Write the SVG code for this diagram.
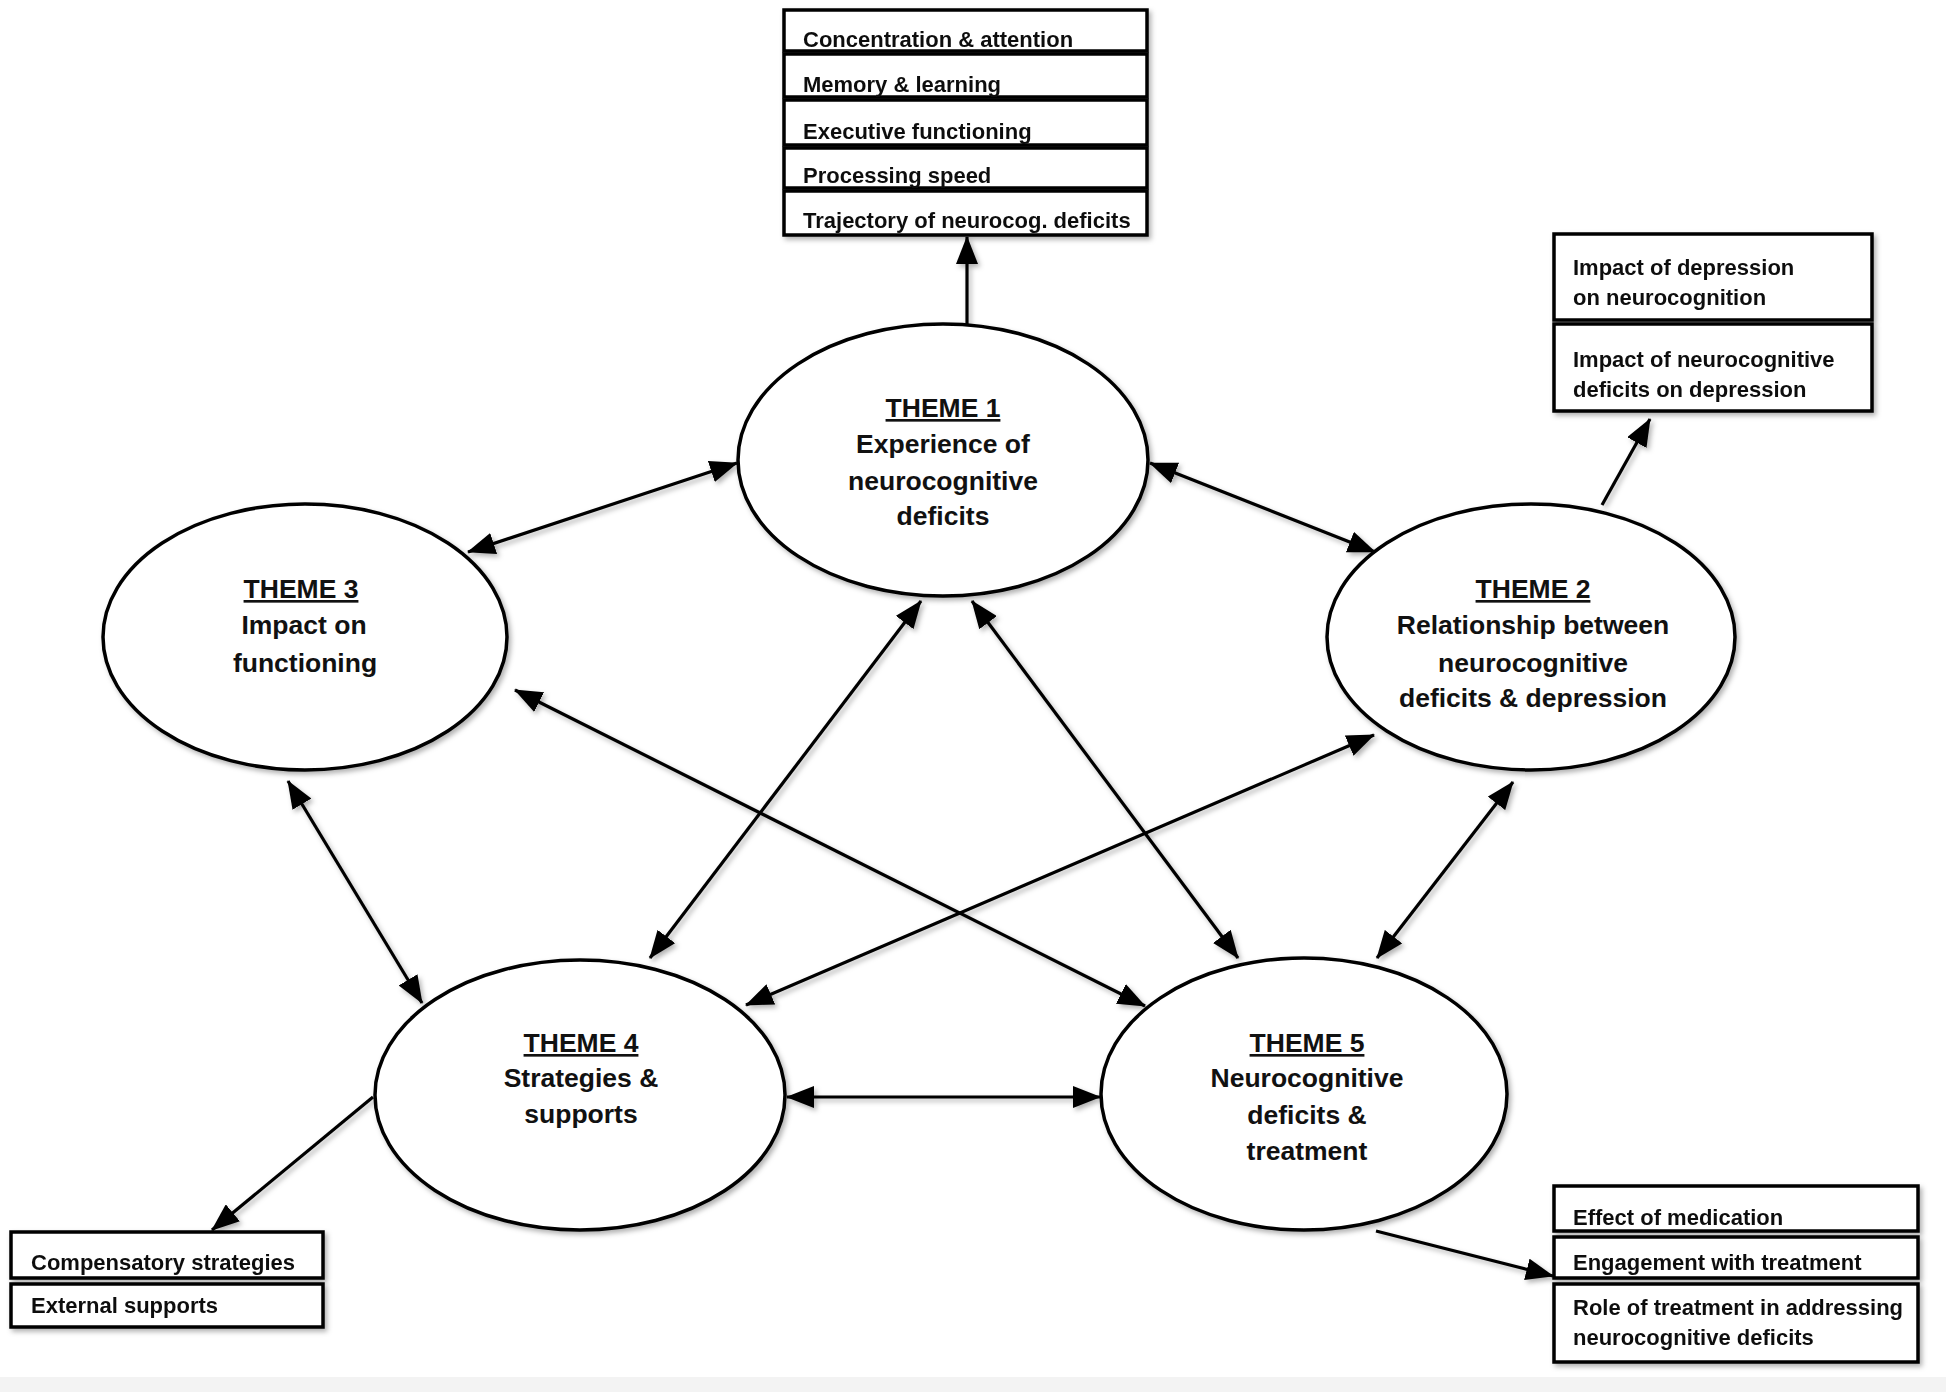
<svg xmlns="http://www.w3.org/2000/svg" width="1946" height="1392" viewBox="0 0 1946 1392">
<style>
  .theme { fill: #fff; stroke: #000; stroke-width: 3.5; }
  .row { fill: #fff; stroke: #000; stroke-width: 3.5; }
  .tt { font-family: "Liberation Sans", Arial, sans-serif; font-weight: bold; font-size: 26.5px; fill: #111; text-anchor: middle; }
  .bt { font-family: "Liberation Sans", Arial, sans-serif; font-weight: bold; font-size: 22px; fill: #111; }
  .u { text-decoration: underline; }
  .conn { stroke: #000; stroke-width: 3.2; fill: none; }
</style>
<defs>
  <filter id="sh" x="-10%" y="-10%" width="125%" height="130%">
    <feDropShadow dx="2.5" dy="3" stdDeviation="2.5" flood-color="#000" flood-opacity="0.3"/>
  </filter>
  <marker id="ah" viewBox="0 0 28 22" refX="27" refY="11" markerWidth="28" markerHeight="22" markerUnits="userSpaceOnUse" orient="auto-start-reverse">
    <path d="M0,0 L28,11 L0,22 z" fill="#000"/>
  </marker>
</defs>
<rect x="0" y="0" width="1946" height="1392" fill="#fff"/>
<rect x="0" y="1377" width="1946" height="15" fill="#f3f3f3"/>

<g id="connectors" filter="url(#sh)">
  <line class="conn" x1="737" y1="463" x2="468" y2="552" marker-start="url(#ah)" marker-end="url(#ah)"/>
  <line class="conn" x1="1150" y1="463" x2="1375" y2="552" marker-start="url(#ah)" marker-end="url(#ah)"/>
  <line class="conn" x1="288" y1="781" x2="422" y2="1003" marker-start="url(#ah)" marker-end="url(#ah)"/>
  <line class="conn" x1="921" y1="601" x2="650" y2="958" marker-start="url(#ah)" marker-end="url(#ah)"/>
  <line class="conn" x1="972" y1="601" x2="1238" y2="958" marker-start="url(#ah)" marker-end="url(#ah)"/>
  <line class="conn" x1="515" y1="690" x2="1145" y2="1006" marker-start="url(#ah)" marker-end="url(#ah)"/>
  <line class="conn" x1="1374" y1="735" x2="746" y2="1005" marker-start="url(#ah)" marker-end="url(#ah)"/>
  <line class="conn" x1="1513" y1="782" x2="1377" y2="958" marker-start="url(#ah)" marker-end="url(#ah)"/>
  <line class="conn" x1="787" y1="1097" x2="1100" y2="1097" marker-start="url(#ah)" marker-end="url(#ah)"/>
  <line class="conn" x1="967" y1="325" x2="967" y2="237" marker-end="url(#ah)"/>
  <line class="conn" x1="1602" y1="505" x2="1650" y2="419" marker-end="url(#ah)"/>
  <line class="conn" x1="373" y1="1097" x2="212" y2="1230" marker-end="url(#ah)"/>
  <line class="conn" x1="1376" y1="1231" x2="1553" y2="1276" marker-end="url(#ah)"/>
</g>

<g id="theme1">
  <ellipse class="theme" cx="943" cy="460" rx="205" ry="136" filter="url(#sh)"/>
  <text class="tt u" x="943" y="417">THEME 1</text>
  <text class="tt" x="943" y="453">Experience of</text>
  <text class="tt" x="943" y="490">neurocognitive</text>
  <text class="tt" x="943" y="525">deficits</text>
</g>
<g id="theme2">
  <ellipse class="theme" cx="1531" cy="637" rx="204" ry="133" filter="url(#sh)"/>
  <text class="tt u" x="1533" y="598">THEME 2</text>
  <text class="tt" x="1533" y="634">Relationship between</text>
  <text class="tt" x="1533" y="672">neurocognitive</text>
  <text class="tt" x="1533" y="707">deficits &amp; depression</text>
</g>
<g id="theme3">
  <ellipse class="theme" cx="305" cy="637" rx="202" ry="133" filter="url(#sh)"/>
  <text class="tt u" x="301" y="598">THEME 3</text>
  <text class="tt" x="304" y="634">Impact on</text>
  <text class="tt" x="305" y="672">functioning</text>
</g>
<g id="theme4">
  <ellipse class="theme" cx="580" cy="1095" rx="205" ry="135" filter="url(#sh)"/>
  <text class="tt u" x="581" y="1052">THEME 4</text>
  <text class="tt" x="581" y="1087">Strategies &amp;</text>
  <text class="tt" x="581" y="1123">supports</text>
</g>
<g id="theme5">
  <ellipse class="theme" cx="1304" cy="1094" rx="203" ry="136" filter="url(#sh)"/>
  <text class="tt u" x="1307" y="1052">THEME 5</text>
  <text class="tt" x="1307" y="1087">Neurocognitive</text>
  <text class="tt" x="1307" y="1124">deficits &amp;</text>
  <text class="tt" x="1307" y="1160">treatment</text>
</g>

<g id="box-theme1" filter="url(#sh)">
  <rect class="row" x="784" y="10" width="363" height="41"/>
  <text class="bt" x="803" y="47">Concentration &amp; attention</text>
  <rect class="row" x="784" y="54" width="363" height="43"/>
  <text class="bt" x="803" y="92">Memory &amp; learning</text>
  <rect class="row" x="784" y="100" width="363" height="45"/>
  <text class="bt" x="803" y="139">Executive functioning</text>
  <rect class="row" x="784" y="148" width="363" height="40"/>
  <text class="bt" x="803" y="183">Processing speed</text>
  <rect class="row" x="784" y="191" width="363" height="44"/>
  <text class="bt" x="803" y="228">Trajectory of neurocog. deficits</text>
</g>

<g id="box-theme2" filter="url(#sh)">
  <rect class="row" x="1554" y="234" width="318" height="86"/>
  <text class="bt" x="1573" y="275">Impact of depression</text>
  <text class="bt" x="1573" y="305">on neurocognition</text>
  <rect class="row" x="1554" y="324" width="318" height="87"/>
  <text class="bt" x="1573" y="367">Impact of neurocognitive</text>
  <text class="bt" x="1573" y="397">deficits on depression</text>
</g>

<g id="box-theme5" filter="url(#sh)">
  <rect class="row" x="1554" y="1186" width="364" height="45"/>
  <text class="bt" x="1573" y="1225">Effect of medication</text>
  <rect class="row" x="1554" y="1237" width="364" height="41"/>
  <text class="bt" x="1573" y="1270">Engagement with treatment</text>
  <rect class="row" x="1554" y="1284" width="364" height="78"/>
  <text class="bt" x="1573" y="1315">Role of treatment in addressing</text>
  <text class="bt" x="1573" y="1345">neurocognitive deficits</text>
</g>

<g id="box-theme4" filter="url(#sh)">
  <rect class="row" x="11" y="1232" width="312" height="46"/>
  <text class="bt" x="31" y="1270">Compensatory strategies</text>
  <rect class="row" x="11" y="1284" width="312" height="43"/>
  <text class="bt" x="31" y="1313">External supports</text>
</g>
</svg>
